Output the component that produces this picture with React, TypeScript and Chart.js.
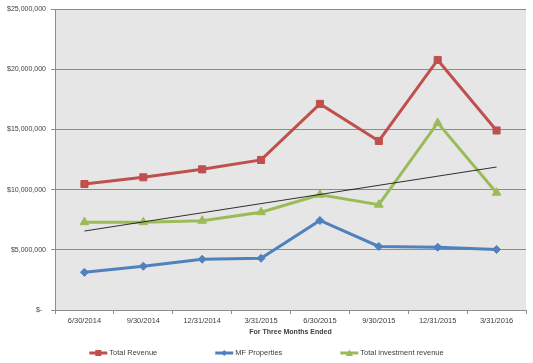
import React, { useEffect, useRef } from "react";
import { Chart, registerables } from "chart.js";

Chart.register(...registerables);

const categories = ["6/30/2014", "9/30/2014", "12/31/2014", "3/31/2015", "6/30/2015", "9/30/2015", "12/31/2015", "3/31/2016"];
const totalRevenue = [10470000, 11030000, 11690000, 12470000, 17130000, 14050000, 20780000, 14920000];
const mfProperties = [3130000, 3640000, 4220000, 4300000, 7440000, 5280000, 5220000, 5030000];
const investmentRevenue = [7300000, 7300000, 7420000, 8130000, 9580000, 8750000, 15550000, 9750000];
const yTickValues = [0, 5000000, 10000000, 15000000, 20000000, 25000000];
const xAxisTitle = "For Three Months Ended";
const seriesNames = ["Total Revenue", "MF Properties", "Total investment revenue"];

const RED = "#C0504D";
const BLUE = "#4F81BD";
const GREEN = "#9BBB59";
const FONT = "'Liberation Sans', Arial, sans-serif";

function linearTrend(values: number[]): number[] {
  const n = values.length;
  const xm = (n - 1) / 2;
  const ym = values.reduce((a, b) => a + b, 0) / n;
  let sxy = 0;
  let sxx = 0;
  values.forEach((v, i) => {
    sxy += (i - xm) * (v - ym);
    sxx += (i - xm) * (i - xm);
  });
  const slope = sxy / sxx;
  return values.map((_, i) => ym + slope * (i - xm));
}

const legendItems = [
  { label: seriesNames[0], color: RED, style: "rect" },
  { label: seriesNames[1], color: BLUE, style: "rectRot" },
  { label: seriesNames[2], color: GREEN, style: "triangle" },
];

const decorPlugin = {
  id: "decor",
  beforeDraw(chart: any) {
    const { ctx, chartArea } = chart;
    ctx.save();
    ctx.fillStyle = "#E6E6E6";
    ctx.fillRect(chartArea.left, chartArea.top, chartArea.right - chartArea.left, chartArea.bottom - chartArea.top);
    ctx.restore();
  },
  afterDraw(chart: any) {
    const { ctx, chartArea, width } = chart;
    ctx.save();
    ctx.font = `bold 7px ${FONT}`;
    ctx.fillStyle = "#404040";
    ctx.textAlign = "center";
    ctx.textBaseline = "middle";
    ctx.fillText(xAxisTitle, (chartArea.left + chartArea.right) / 2, 332);

    ctx.font = `7.5px ${FONT}`;
    const lineLen = 18;
    const textGap = 2;
    const itemGap = 58;
    const widths = legendItems.map((it) => lineLen + textGap + ctx.measureText(it.label).width);
    const total = widths.reduce((a, b) => a + b, 0) + itemGap * (legendItems.length - 1);
    let x = (width - total) / 2;
    const y = 353;
    legendItems.forEach((it, i) => {
      ctx.strokeStyle = it.color;
      ctx.lineWidth = 3;
      ctx.beginPath();
      ctx.moveTo(x, y);
      ctx.lineTo(x + lineLen, y);
      ctx.stroke();
      ctx.fillStyle = it.color;
      const cx = x + lineLen / 2;
      ctx.beginPath();
      if (it.style === "rect") {
        ctx.rect(cx - 3, y - 3, 6, 6);
      } else if (it.style === "rectRot") {
        ctx.moveTo(cx - 3, y);
        ctx.lineTo(cx, y - 3);
        ctx.lineTo(cx + 3, y);
        ctx.lineTo(cx, y + 3);
        ctx.closePath();
      } else {
        ctx.moveTo(cx - 3.5, y + 3);
        ctx.lineTo(cx, y - 3.5);
        ctx.lineTo(cx + 3.5, y + 3);
        ctx.closePath();
      }
      ctx.fill();
      ctx.fillStyle = "#404040";
      ctx.textAlign = "left";
      ctx.textBaseline = "middle";
      ctx.fillText(it.label, x + lineLen + textGap, y);
      x += widths[i] + itemGap;
    });
    ctx.restore();
  },
};

export default function App() {
  const ref = useRef<HTMLCanvasElement | null>(null);
  useEffect(() => {
    if (!ref.current) return;
    const trend = linearTrend(investmentRevenue);
    const chart = new Chart(ref.current, {
      type: "line",
      data: {
        labels: categories,
        datasets: [
          {
            label: seriesNames[0],
            data: totalRevenue,
            borderColor: RED,
            backgroundColor: RED,
            borderWidth: 3,
            pointStyle: "rect",
            pointRadius: 5,
            pointBorderWidth: 1,
            pointBackgroundColor: RED,
            pointBorderColor: RED,
          },
          {
            label: seriesNames[1],
            data: mfProperties,
            borderColor: BLUE,
            backgroundColor: BLUE,
            borderWidth: 3,
            pointStyle: "rectRot",
            pointRadius: 4,
            pointBorderWidth: 1,
            pointBackgroundColor: BLUE,
            pointBorderColor: BLUE,
          },
          {
            label: seriesNames[2],
            data: investmentRevenue,
            borderColor: GREEN,
            backgroundColor: GREEN,
            borderWidth: 3,
            pointStyle: "triangle",
            pointRadius: 5,
            pointBorderWidth: 1,
            pointBackgroundColor: GREEN,
            pointBorderColor: GREEN,
          },
          {
            label: "Linear trend",
            data: trend,
            borderColor: "#000000",
            borderWidth: 0.8,
            pointRadius: 0,
            order: -1,
          },
        ],
      },
      options: {
        responsive: false,
        animation: false,
        events: [],
        layout: { padding: { left: 0, top: 9, right: 7, bottom: 18 } },
        plugins: {
          legend: { display: false },
          tooltip: { enabled: false },
          title: { display: false },
        },
        scales: {
          x: {
            type: "category",
            offset: true,
            afterFit(scale: any) {
              scale.height = 35;
            },
            grid: {
              offset: true,
              drawOnChartArea: false,
              drawTicks: true,
              tickLength: 4,
              color: "#8C8C8C",
            },
            border: { display: true, color: "#8C8C8C", width: 1 },
            ticks: {
              color: "#404040",
              font: { family: FONT, size: 7.5 },
              padding: 2,
              maxRotation: 0,
              autoSkip: false,
            },
          },
          y: {
            min: 0,
            max: 25000000,
            afterFit(scale: any) {
              scale.width = 55;
            },
            afterBuildTicks(scale: any) {
              scale.ticks = yTickValues.map((v) => ({ value: v }));
            },
            grid: {
              color: "#8C8C8C",
              lineWidth: 1,
              drawTicks: true,
              tickLength: 4,
            },
            border: { display: true, color: "#8C8C8C", width: 1 },
            ticks: {
              color: "#404040",
              font: { family: FONT, size: 7 },
              padding: 5,
              callback: (v: any) => (Number(v) === 0 ? "$-  " : "$" + Number(v).toLocaleString("en-US")),
            },
          },
        },
      },
      plugins: [decorPlugin],
    });
    return () => chart.destroy();
  }, []);
  return (
    <div style={{ position: "fixed", left: 0, top: 0, width: 533, height: 363, background: "#fff" }}>
      <canvas ref={ref} width={533} height={363} style={{ width: 533, height: 363, display: "block" }} />
    </div>
  );
}
